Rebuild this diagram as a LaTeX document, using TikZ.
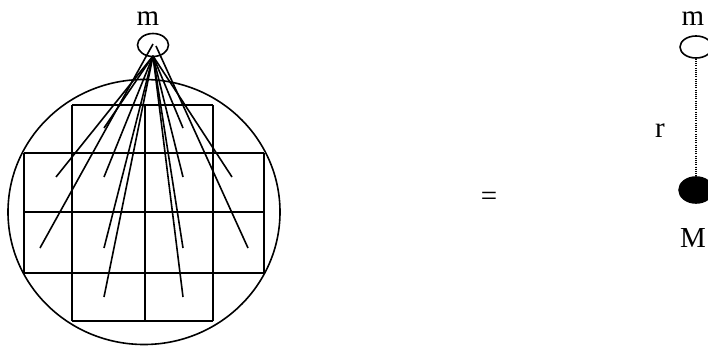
\documentclass[tikz,border=0pt]{standalone}
\usepackage{fontspec}
\setmainfont{Liberation Serif}
\usetikzlibrary{shapes.geometric, positioning}

\begin{document}
\begin{tikzpicture}[
  x=1pt, y=-1pt,
  line width=1.7pt,
  lbl/.style={font=\fontsize{29}{34}\selectfont, inner sep=0pt},
  mass/.style={ellipse, draw, inner sep=0pt, line width=1.6pt},
  ray/.style={line width=1.6pt},
  gridline/.style={line width=1.8pt},
  sep/.style={line width=1.4pt, dash pattern=on 0.9pt off 1.3pt}
]
  \clip (0,0) rectangle (708,347);

  % body made of small pieces
  \node[mass, minimum width=272pt, minimum height=265pt] (body) at (144,212) {};
  \draw[gridline] (72,105) -- (213,105);
  \draw[gridline] (24,153) -- (264,153);
  \draw[gridline] (24,212) -- (264,212);
  \draw[gridline] (24,273) -- (264,273);
  \draw[gridline] (72,321) -- (213,321);
  \draw[gridline] (24,153) -- (24,273);
  \draw[gridline] (72,105) -- (72,321);
  \draw[gridline] (145,105) -- (145,321);
  \draw[gridline] (213,105) -- (213,321);
  \draw[gridline] (264,153) -- (264,273);

  % small mass above the body
  \node[mass, minimum width=31pt, minimum height=23pt] (m1) at (153,45) {};
  \node[lbl] (lm1) at (148,19) {m};
  \coordinate (apex) at (153,56);
  \coordinate (apexl) at (153,44);
  \coordinate (apexr) at (156,46);

  % one line per piece
  \foreach \px/\py [count=\i] in {56/177, 104/128, 104/177, 183/128, 183/177,
      232/177, 104/248, 183/248, 104/297, 183/297} {
    \coordinate (p\i) at (\px,\py);
    \draw[ray] (apex) -- (p\i);
  }
  \coordinate (pl) at (40,248);
  \coordinate (pr) at (248,248);
  \draw[ray] (apexl) -- (pl);
  \draw[ray] (apexr) -- (pr);

  \node[lbl] (eq) at (489,199) {=};

  % equivalent point masses
  \node[mass, minimum width=32pt, minimum height=22pt] (m2) at (696,47) {};
  \node[mass, fill=black, minimum width=34pt, minimum height=26pt] (M) at (696,190) {};
  \node[lbl] (lm2) at (693,19) {m};
  \node[lbl] (lM) at (693,238) {M};
  \node[lbl] (lr) at (660,131) {r};
  \draw[sep] (m2.south) -- (M.north);
\end{tikzpicture}
\end{document}
